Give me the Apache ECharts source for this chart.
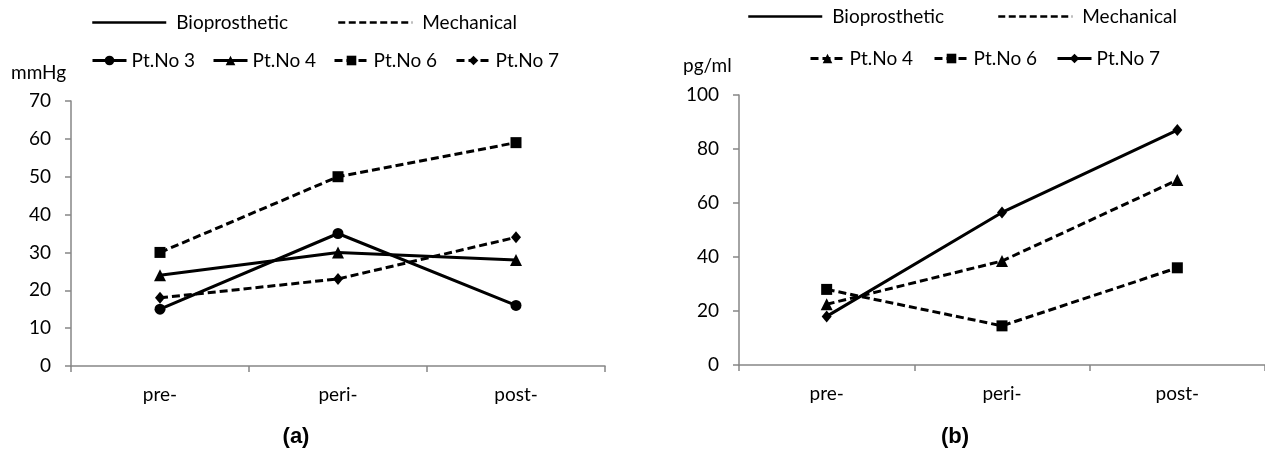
<!DOCTYPE html>
<html>
<head>
<meta charset="utf-8">
<script src="https://cdn.jsdelivr.net/npm/echarts@6/dist/echarts.min.js"></script>
<style>
html,body{margin:0;padding:0;background:#fff;}
#wrap{position:relative;width:1265px;height:456px;overflow:hidden;}
#ca{position:absolute;left:0;top:0;width:632px;height:456px;}
#cb{position:absolute;left:632px;top:0;width:633px;height:456px;}
</style>
</head>
<body>
<div id="wrap"><div id="ca"></div><div id="cb"></div></div>
<script>
// ---- data ----
var categories = ['pre-', 'peri-', 'post-'];
// (a) mmHg
var aPt3 = [15, 35, 16];
var aPt4 = [24, 30, 28];
var aPt6 = [30, 50, 59];
var aPt7 = [18, 23, 34];
// (b) pg/ml
var bPt4 = [22.5, 38.5, 68.5];
var bPt6 = [28, 14.5, 36];
var bPt7 = [18, 56.5, 87];
var aTicks = {min: 0, max: 70, interval: 10};
var bTicks = {min: 0, max: 100, interval: 20};

var FONT = 'Lato';
var FS = 19;
var TXT = '#000';
var AXC = '#868686';
var DASH = [8, 4];

function legendItem(name, left, top, w, key) {
  var o = {
    data: [name], left: left, top: top, padding: 0,
    itemWidth: w, itemHeight: 12, selectedMode: false,
    textStyle: {fontFamily: FONT, fontSize: FS, color: TXT, padding: key ? [0, 0, 0, 5] : 0},
    lineStyle: {width: key ? 2.5 : 3}
  };
  if (key) { o.itemStyle = {opacity: 0}; }
  return o;
}
function ptSeries(name, data, dashed, symbol, size) {
  return {
    name: name, type: 'line', data: data,
    symbol: symbol, symbolSize: size,
    itemStyle: {color: '#000'},
    lineStyle: {color: '#000', width: 3, type: dashed ? DASH : 'solid'},
    emphasis: {disabled: true}, animation: false
  };
}
function keySeries(name, dashed) {
  return {
    name: name, type: 'line', data: [], symbol: 'none', showSymbol: false,
    itemStyle: {color: '#000'},
    lineStyle: {color: '#000', width: 2.5, type: dashed ? [7, 3.5] : 'solid'},
    animation: false
  };
}
function axes(gridLeft, gridTop, gridH, t) {
  return {
    grid: {left: gridLeft, top: gridTop, width: 534, height: gridH, containLabel: false},
    xAxis: {
      type: 'category', data: categories, boundaryGap: true,
      axisLine: {lineStyle: {color: AXC, width: 1.5}},
      axisTick: {show: true, length: 6, lineStyle: {color: AXC, width: 1.5}},
      axisLabel: {fontFamily: FONT, fontSize: FS, color: TXT, margin: 19},
      splitLine: {show: false}
    },
    yAxis: {
      type: 'value', min: t.min, max: t.max, interval: t.interval,
      axisLine: {show: true, lineStyle: {color: AXC, width: 1.5}},
      axisTick: {show: true, length: 6, lineStyle: {color: AXC, width: 1.5}},
      axisLabel: {fontFamily: FONT, fontSize: FS, color: TXT, margin: 20},
      splitLine: {show: false}
    }
  };
}

// ---- chart (a) ----
var ca = echarts.init(document.getElementById('ca'), null, {renderer: 'canvas'});
var ax = axes(71, 101, 265, aTicks);
ca.setOption({
  animation: false,
  title: [
    {text: 'mmHg', left: 11, top: 63, padding: 0, textStyle: {fontFamily: FONT, fontSize: FS, fontWeight: 'normal', color: TXT}},
    {text: '(a)', left: 296, top: 426, padding: 0, textAlign: 'center', textStyle: {fontFamily: 'Liberation Sans', fontSize: 22, fontWeight: 'bold', color: TXT}}
  ],
  legend: [
    legendItem('Bioprosthetic', 91, 13, 74, true),
    legendItem('Mechanical', 337, 13, 74, true),
    legendItem('Pt.No 3', 91, 51, 34),
    legendItem('Pt.No 4', 212, 51, 34),
    legendItem('Pt.No 6', 333, 51, 34),
    legendItem('Pt.No 7', 455, 51, 34)
  ],
  grid: ax.grid, xAxis: ax.xAxis, yAxis: ax.yAxis,
  series: [
    keySeries('Bioprosthetic', false),
    keySeries('Mechanical', true),
    ptSeries('Pt.No 3', aPt3, false, 'circle', 11),
    ptSeries('Pt.No 4', aPt4, false, 'triangle', 12),
    ptSeries('Pt.No 6', aPt6, true, 'rect', 11),
    ptSeries('Pt.No 7', aPt7, true, 'diamond', [10, 12])
  ]
});

// ---- chart (b) ----
var cb = echarts.init(document.getElementById('cb'), null, {renderer: 'canvas'});
var bx = axes(107, 95, 270, bTicks);
cb.setOption({
  animation: false,
  title: [
    {text: 'pg/ml', left: 51, top: 56, padding: 0, textStyle: {fontFamily: FONT, fontSize: FS, fontWeight: 'normal', color: TXT}},
    {text: '(b)', left: 323, top: 426, padding: 0, textAlign: 'center', textStyle: {fontFamily: 'Liberation Sans', fontSize: 22, fontWeight: 'bold', color: TXT}}
  ],
  legend: [
    legendItem('Bioprosthetic', 115, 7, 74, true),
    legendItem('Mechanical', 365, 7, 74, true),
    legendItem('Pt.No 4', 177, 49, 34),
    legendItem('Pt.No 6', 301, 49, 34),
    legendItem('Pt.No 7', 424, 49, 34)
  ],
  grid: bx.grid, xAxis: bx.xAxis, yAxis: bx.yAxis,
  series: [
    keySeries('Bioprosthetic', false),
    keySeries('Mechanical', true),
    ptSeries('Pt.No 4', bPt4, true, 'triangle', 12),
    ptSeries('Pt.No 6', bPt6, true, 'rect', 11),
    ptSeries('Pt.No 7', bPt7, false, 'diamond', [10, 12])
  ]
});
</script>
</body>
</html>
